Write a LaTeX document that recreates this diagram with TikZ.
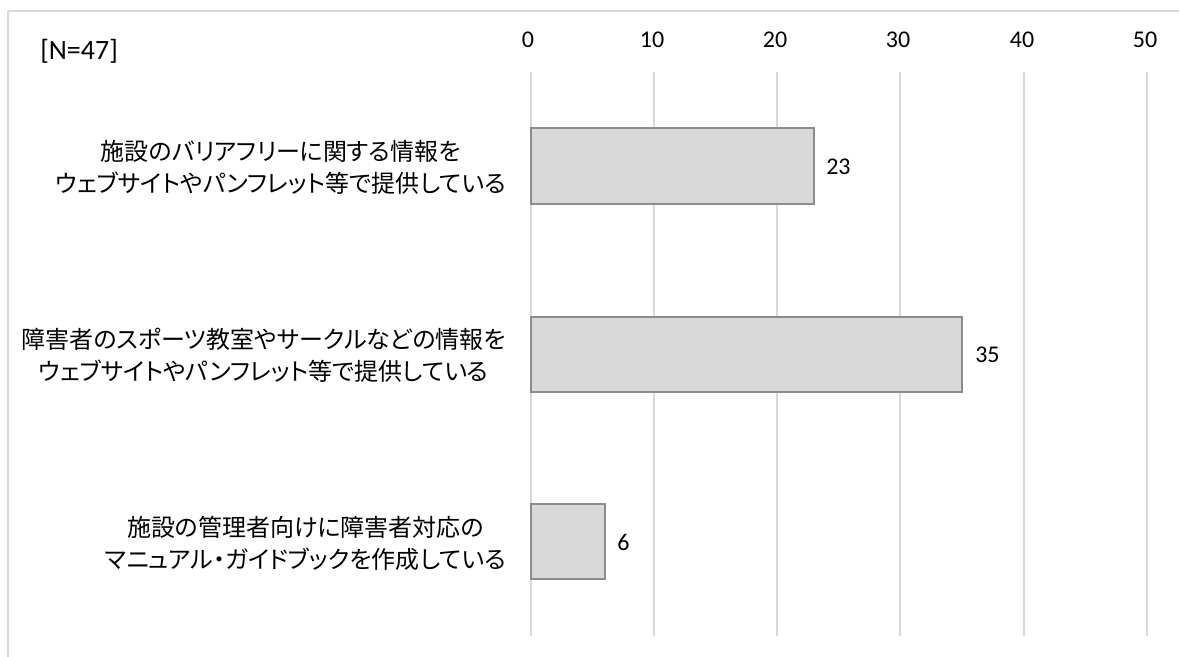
\documentclass[tikz,border=0pt]{standalone}
\usepackage{fontspec}
\setmainfont{Carlito}
\newfontfamily\jpfont[RawFeature=+palt]{Noto Sans CJK JP}
\definecolor{gridgray}{HTML}{D9D9D9}
\definecolor{barfill}{HTML}{D9D9D9}
\definecolor{baredge}{HTML}{8C8C8C}
\begin{document}
\begin{tikzpicture}[x=0.75pt,y=-0.75pt,
    grid/.style={draw=gridgray,line width=1pt},
    bar/.style={draw=baredge,fill=barfill,line width=1.1pt},
    ticklabel/.style={inner sep=0pt,font=\fontsize{18}{20}\selectfont},
    vallabel/.style={anchor=west,inner sep=0pt,font=\fontsize{18}{20}\selectfont},
    catlabel/.style={anchor=east,align=center,inner sep=0pt,font=\jpfont\fontsize{18}{24}\selectfont}]
    \useasboundingbox (0,0) rectangle (1179,657);
    % frame
    \draw [grid] (1179,11) -- (8,11) -- (8,657);
    % grid
    \draw [grid] (531,72) -- (531,636);
    \draw [grid] (654,72) -- (654,636);
    \draw [grid] (777,72) -- (777,636);
    \draw [grid] (900,72) -- (900,636);
    \draw [grid] (1024,72) -- (1024,636);
    \draw [grid] (1147,72) -- (1147,636);
    \node [ticklabel] (t0) at (528,40) {0};
    \node [ticklabel] (t10) at (652,40) {10};
    \node [ticklabel] (t20) at (775,40) {20};
    \node [ticklabel] (t30) at (898,40) {30};
    \node [ticklabel] (t40) at (1022,40) {40};
    \node [ticklabel] (t50) at (1145,40) {50};
    \node [ticklabel, anchor=west, font=\fontsize{21}{23}\selectfont] (total) at (40,51) {[N=47]};
    % bars
    \draw [bar] (531,128) rectangle (814,204);
    \draw [bar] (531,317) rectangle (962,392);
    \draw [bar] (531,504) rectangle (605,579);
    \node [vallabel] (v1) at (826,167) {23};
    \node [vallabel] (v2) at (975,355) {35};
    \node [vallabel] (v3) at (617,542) {6};
    % categories
    \node [catlabel] (c1) at (506,167) {施設のバリアフリーに関する情報を\\ウェブサイトやパンフレット等で提供している};
    \node [catlabel] (c2) at (506,355) {障害者のスポーツ教室やサークルなどの情報を\\ウェブサイトやパンフレット等で提供している};
    \node [catlabel] (c3) at (506,543) {施設の管理者向けに障害者対応の\\マニュアル・ガイドブックを作成している};
\end{tikzpicture}
\end{document}
